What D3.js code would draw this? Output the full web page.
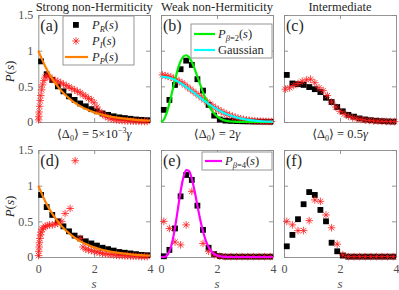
<!DOCTYPE html>
<html>
<head>
<meta charset="utf-8">
<script src="https://cdn.jsdelivr.net/npm/d3@7"></script>
<style>
body{margin:0;background:#fff}
</style>
</head>
<body>
<svg id="fig" width="399" height="290"></svg>
<script>
// histogram bin centres (s) shared by the square / star markers
var sBins = [0.1,0.3,0.5,0.7,0.9,1.1,1.3,1.5,1.7,1.9,2.1,2.3,2.5,2.7,2.9,3.1,3.3,3.5,3.7,3.9]

// (a) strong non-Hermiticity
var aR = [0.85,0.67,0.59,0.5,0.43,0.36,0.31,0.26,0.22,0.18,0.15,0.12,0.1,0.08,0.065,0.055,0.045,0.035,0.03,0.025]
var aIs = [0.01,0.02,0.03,0.05,0.07,0.09,0.12,0.15,0.2,0.25,0.3,0.4,0.5,0.6,0.7,0.8,0.9,1.0,1.1,1.2,1.3,1.4,1.5,1.6,1.7,1.8,1.9,2.0,2.1,2.2,2.3,2.4,2.5,2.6,2.7,2.8,2.9,3.0,3.1,3.2,3.3,3.4,3.5,3.6,3.7,3.8,3.9]
var aI = [0.03,0.08,0.14,0.22,0.3,0.37,0.45,0.52,0.58,0.63,0.65,0.63,0.6,0.58,0.57,0.55,0.53,0.51,0.49,0.47,0.45,0.43,0.41,0.38,0.36,0.33,0.31,0.27,0.21,0.15,0.11,0.08,0.06,0.045,0.035,0.03,0.025,0.02,0.018,0.015,0.013,0.011,0.01,0.009,0.008,0.007,0.006]

// (d) same regime, other disorder
var dR = [0.87,0.7,0.59,0.5,0.43,0.36,0.3,0.26,0.22,0.19,0.16,0.13,0.11,0.09,0.07,0.06,0.05,0.04,0.03,0.025]
var dIs = [0.01,0.02,0.03,0.04,0.06,0.08,0.1,0.14,0.18,0.25,0.32,0.4,0.5,0.6,0.7,0.84,0.96,1.14,1.32,1.5,1.6,1.7,1.8,1.9,2.0,2.1,2.2,2.3,2.4,2.5,2.6,2.7,2.8,2.9,3.0,3.1,3.2,3.3,3.4,3.5,3.6,3.7,3.8,3.9]
var dI = [0.02,0.08,0.14,0.2,0.26,0.31,0.35,0.39,0.41,0.43,0.44,0.45,0.45,0.46,0.47,0.5,0.61,0.68,1.35,0.26,0.14,0.11,0.1,0.09,0.08,0.07,0.06,0.05,0.045,0.04,0.035,0.03,0.025,0.02,0.02,0.015,0.015,0.012,0.01,0.01,0.008,0.007,0.006,0.005]

// (b) weak non-Hermiticity
var bR = [0.17,0.31,0.52,0.74,0.86,0.8,0.6,0.44,0.24,0.09,0.035,0.02,0.015,0.012,0.01,0.008,0.006,0.005,0.004,0.003]
var bIs = [0.05,0.15,0.25,0.35,0.45,0.55,0.65,0.75,0.85,0.95,1.05,1.15,1.25,1.35,1.45,1.55,1.65,1.75,1.85,1.95,2.05,2.15,2.25,2.35,2.45,2.55,2.65,2.75,2.85,2.95,3.05,3.15,3.25,3.35,3.45,3.55,3.65,3.75,3.85,3.95]
var bI = [0.66,0.65,0.64,0.63,0.61,0.59,0.57,0.55,0.52,0.49,0.46,0.43,0.4,0.37,0.34,0.31,0.28,0.25,0.22,0.195,0.17,0.15,0.13,0.11,0.095,0.08,0.066,0.055,0.045,0.037,0.03,0.025,0.02,0.016,0.013,0.011,0.009,0.008,0.007,0.006]

// (c) intermediate
var cR = [0.66,0.54,0.53,0.52,0.49,0.46,0.42,0.34,0.28,0.21,0.15,0.1,0.075,0.05,0.035,0.025,0.018,0.012,0.008,0.006]
var cIs = [0.05,0.2,0.35,0.5,0.65,0.8,0.95,1.1,1.25,1.4,1.55,1.7,1.85,2.0,2.15,2.3,2.45,2.6,2.75,2.9,3.05,3.2,3.35,3.5,3.65,3.8,3.95]
var cI = [0.46,0.48,0.51,0.54,0.57,0.59,0.6,0.55,0.48,0.44,0.37,0.28,0.21,0.15,0.11,0.08,0.06,0.045,0.035,0.025,0.02,0.015,0.012,0.01,0.008,0.006,0.005]

// (e) <D0> = 2 gamma
var eR = [0.01,0.1,0.4,0.85,1.15,1.08,0.72,0.38,0.13,0.04,0.012,0.005,0.005,0.005,0.005,0.005,0.005,0.005,0.005,0.005]
var eIs = [0.1,0.3,0.5,0.7,0.9,1.1,1.5,1.7,1.9,2.1,2.3,2.5,2.7,2.9,3.1,3.3,3.5,3.7,3.9]
var eI = [0.5,0.4,0.21,0.17,0.45,0.92,0.19,0.08,0.03,0.01,0.005,0.005,0.005,0.005,0.005,0.005,0.005,0.005,0.005]

// (f) <D0> = 0.5 gamma
var fR = [0.15,0.31,0.53,0.74,0.91,0.87,0.66,0.5,0.2,0.08,0.02,0.005,0.005,0.005,0.005,0.005,0.005,0.005,0.005,0.005]
var fI = [0.5,0.45,0.37,0.37,0.51,0.8,0.78,0.59,0.41,0.18,0.03,0.005,0.005,0.005,0.005,0.005,0.005,0.005,0.005,0.005]

// theory curves
var sFine = d3.range(0, 4.001, 0.1)
var pGue = [0,0.032,0.123,0.26,0.423,0.59,0.738,0.851,0.918,0.936,0.907,0.841,0.746,0.637,0.524,0.416,0.319,0.236,0.17,0.118,0.08,0.052,0.033,0.02,0.012,0.007,0.004,0.002,0.001,0.001,0,0,0,0,0,0,0,0,0,0,0]
var pGse = [0,0.001,0.017,0.077,0.207,0.412,0.665,0.919,1.116,1.217,1.206,1.097,0.924,0.722,0.527,0.36,0.231,0.14,0.08,0.043,0.022,0.011,0.005,0.002,0.001,0,0,0,0,0,0,0,0,0,0,0,0,0,0,0,0]
var sCoarse = [0,0.25,0.5,0.75,1,1.25,1.5,1.75,2,2.25,2.5,2.75,3,3.25,3.5,3.75,4]
var pPoisson = [1,0.779,0.607,0.472,0.368,0.287,0.223,0.174,0.135,0.105,0.082,0.064,0.05,0.039,0.03,0.024,0.018]
var pGauss = [0.637,0.624,0.588,0.533,0.463,0.388,0.311,0.24,0.178,0.127,0.087,0.057,0.036,0.022,0.013,0.007,0.004]

var xTicks = [0,2,4]
var yTicks = [0,0.5,1,1.5]
var titles = ['Strong non-Hermiticity','Weak non-Hermiticity','Intermediate']

var FONT = '"Liberation Serif","DejaVu Serif","Noto Serif",serif'
var svg = d3.select('svg#fig').style('font-family', FONT)
var colX = [[38.3,150],[161,273],[284,396]]
var rowY = [[15,122],[150,257]]
var frameCol = '#8a8a8a'
var tickCol = '#4d4d4d'

var panels = [
  {lab:'(a)', col:0, row:0, R:[sBins,aR], I:[aIs,aI], lines:[[sCoarse,pPoisson,'#ff8000']]},
  {lab:'(b)', col:1, row:0, R:[sBins,bR], I:[bIs,bI], lines:[[sFine,pGue,'#00ee00'],[sCoarse,pGauss,'#00ffff']]},
  {lab:'(c)', col:2, row:0, R:[sBins,cR], I:[cIs,cI], lines:[]},
  {lab:'(d)', col:0, row:1, R:[sBins,dR], I:[dIs,dI], lines:[[sCoarse,pPoisson,'#ff8000']]},
  {lab:'(e)', col:1, row:1, R:[sBins,eR], I:[eIs,eI], lines:[[sFine,pGse,'#ff00ff']]},
  {lab:'(f)', col:2, row:1, R:[sBins,fR], I:[sBins,fI], lines:[]}
]

function starPath(r){
  var d = r*0.7071
  return 'M'+(-r)+',0H'+r+'M0,'+(-r)+'V'+r+'M'+(-d)+','+(-d)+'L'+d+','+d+'M'+(-d)+','+d+'L'+d+','+(-d)
}

function txt(sel){
  return sel.append('text').style('font-family', FONT)
}

panels.forEach(function(p){
  var x = d3.scaleLinear().domain([0,4]).range(colX[p.col])
  var y = d3.scaleLinear().domain([0,1.5]).range([rowY[p.row][1], rowY[p.row][0]])
  var g = svg.append('g')

  // axes, ticks pointing inward on all four sides
  var ax = [
    [d3.axisBottom(x).tickValues(xTicks).tickPadding(7), 'translate(0,'+y(0)+')', p.row==1],
    [d3.axisTop(x).tickValues(xTicks), 'translate(0,'+y(1.5)+')', false],
    [d3.axisLeft(y).tickValues(yTicks).tickPadding(5), 'translate('+x(0)+',0)', p.col==0],
    [d3.axisRight(y).tickValues(yTicks), 'translate('+x(4)+',0)', false]
  ]
  ax.forEach(function(a){
    var axis = a[0].tickSizeInner(-4).tickSizeOuter(0)
    if(!a[2]) axis.tickFormat('')
    else axis.tickFormat(function(d){return d})
    var ag = g.append('g').attr('transform',a[1]).call(axis)
    ag.attr('font-family', null)
    ag.select('.domain').attr('stroke',frameCol).attr('stroke-width',0.9)
    ag.selectAll('.tick line').attr('stroke',frameCol).attr('stroke-width',0.9)
    ag.selectAll('.tick text').attr('fill',tickCol).attr('font-size',12).style('font-family', FONT)
  })

  // squares: P_R
  g.selectAll('rect.sq').data(p.R[0]).enter().append('rect')
    .attr('class','sq')
    .attr('x',function(d){return x(d)-2.9})
    .attr('y',function(d,i){return y(p.R[1][i])-2.9})
    .attr('width',5.8).attr('height',5.8).attr('fill','#000')

  // stars: P_I
  g.selectAll('path.st').data(p.I[0]).enter().append('path')
    .attr('class','st')
    .attr('transform',function(d,i){return 'translate('+x(d)+','+y(p.I[1][i])+')'})
    .attr('d',starPath(3.8)).attr('fill','none').attr('stroke','#ff1a1a').attr('stroke-width',0.8)

  // theory lines
  p.lines.forEach(function(l){
    var line = d3.line().x(function(d){return x(d)}).y(function(d,i){return y(l[1][i])}).curve(d3.curveMonotoneX)
    g.append('path').datum(l[0]).attr('d',line).attr('fill','none').attr('stroke',l[2]).attr('stroke-width',2.2)
  })

  // panel letter
  txt(g).attr('x',x(0)+2).attr('y',y(1.5)+16).attr('font-size',16).attr('fill','#262626').text(p.lab)

  if(p.row==1){
    txt(g).attr('x',(x(0)+x(4))/2).attr('y',288).attr('text-anchor','middle')
      .attr('font-size',13).attr('font-style','italic').attr('fill',tickCol).text('s')
  }
  if(p.col==0){
    txt(g).attr('transform','translate(14,'+((y(0)+y(1.5))/2+3)+') rotate(-90)')
      .attr('text-anchor','middle').attr('font-size',13).attr('fill','#262626')
      .html('<tspan font-style="italic">P</tspan>(<tspan font-style="italic">s</tspan>)')
  }
})

// column titles
titles.forEach(function(t,i){
  txt(svg).attr('x',(colX[i][0]+colX[i][1])/2).attr('y',11).attr('text-anchor','middle')
    .attr('font-size',12.5).attr('fill','#262626').text(t)
})

// <Delta_0> labels
var deltaLabels = [
  '\u27E8\u0394<tspan font-size="8" dy="3">0</tspan><tspan dy="-3">\u27E9 = 5\u00D710</tspan><tspan font-size="8" dy="-5">\u22123</tspan><tspan dy="5" font-style="italic">\u03B3</tspan>',
  '\u27E8\u0394<tspan font-size="8" dy="3">0</tspan><tspan dy="-3">\u27E9 = 2</tspan><tspan font-style="italic">\u03B3</tspan>',
  '\u27E8\u0394<tspan font-size="8" dy="3">0</tspan><tspan dy="-3">\u27E9 = 0.5</tspan><tspan font-style="italic">\u03B3</tspan>'
]
deltaLabels.forEach(function(t,i){
  txt(svg).attr('x',(colX[i][0]+colX[i][1])/2).attr('y',138).attr('text-anchor','middle')
    .attr('font-size',12.5).attr('fill','#262626').html(t)
})

// legends
function legendBox(x0,y0,w,h){
  svg.append('rect').attr('x',x0).attr('y',y0).attr('width',w).attr('height',h)
    .attr('fill','#fff').attr('stroke',frameCol).attr('stroke-width',0.9)
}
function legendText(x0,y0,html){
  txt(svg).attr('x',x0).attr('y',y0).attr('font-size',12.5).attr('fill','#262626').html(html)
}
// (a)
legendBox(63,16,71,49)
svg.append('rect').attr('x',73).attr('y',22).attr('width',5.8).attr('height',5.8).attr('fill','#000')
svg.append('path').attr('transform','translate(76,41)').attr('d',starPath(3.8)).attr('fill','none').attr('stroke','#ff1a1a').attr('stroke-width',0.8)
svg.append('line').attr('x1',65).attr('x2',88).attr('y1',57).attr('y2',57).attr('stroke','#ff8000').attr('stroke-width',2.2)
legendText(92,29,'<tspan font-style="italic">P</tspan><tspan font-size="8.5" dy="3" font-style="italic">R</tspan><tspan dy="-3">(</tspan><tspan font-style="italic">s</tspan>)')
legendText(92,45,'<tspan font-style="italic">P</tspan><tspan font-size="8.5" dy="3" font-style="italic">I</tspan><tspan dy="-3">(</tspan><tspan font-style="italic">s</tspan>)')
legendText(92,61,'<tspan font-style="italic">P</tspan><tspan font-size="8.5" dy="3" font-style="italic">P</tspan><tspan dy="-3">(</tspan><tspan font-style="italic">s</tspan>)')
// (b)
legendBox(191,24,81,34)
svg.append('line').attr('x1',194).attr('x2',215).attr('y1',34).attr('y2',34).attr('stroke','#00ee00').attr('stroke-width',2.2)
svg.append('line').attr('x1',194).attr('x2',215).attr('y1',50).attr('y2',50).attr('stroke','#00ffff').attr('stroke-width',2.2)
legendText(218,38,'<tspan font-style="italic">P</tspan><tspan font-size="8.5" dy="3"><tspan font-style="italic">\u03B2</tspan>=2</tspan><tspan dy="-3">(</tspan><tspan font-style="italic">s</tspan>)')
legendText(218,54,'Gaussian')
// (e)
legendBox(202,152,70,18)
svg.append('line').attr('x1',205).attr('x2',222).attr('y1',161).attr('y2',161).attr('stroke','#ff00ff').attr('stroke-width',2.2)
legendText(225,165,'<tspan font-style="italic">P</tspan><tspan font-size="8.5" dy="3"><tspan font-style="italic">\u03B2</tspan>=4</tspan><tspan dy="-3">(</tspan><tspan font-style="italic">s</tspan>)')
</script>
</body>
</html>
